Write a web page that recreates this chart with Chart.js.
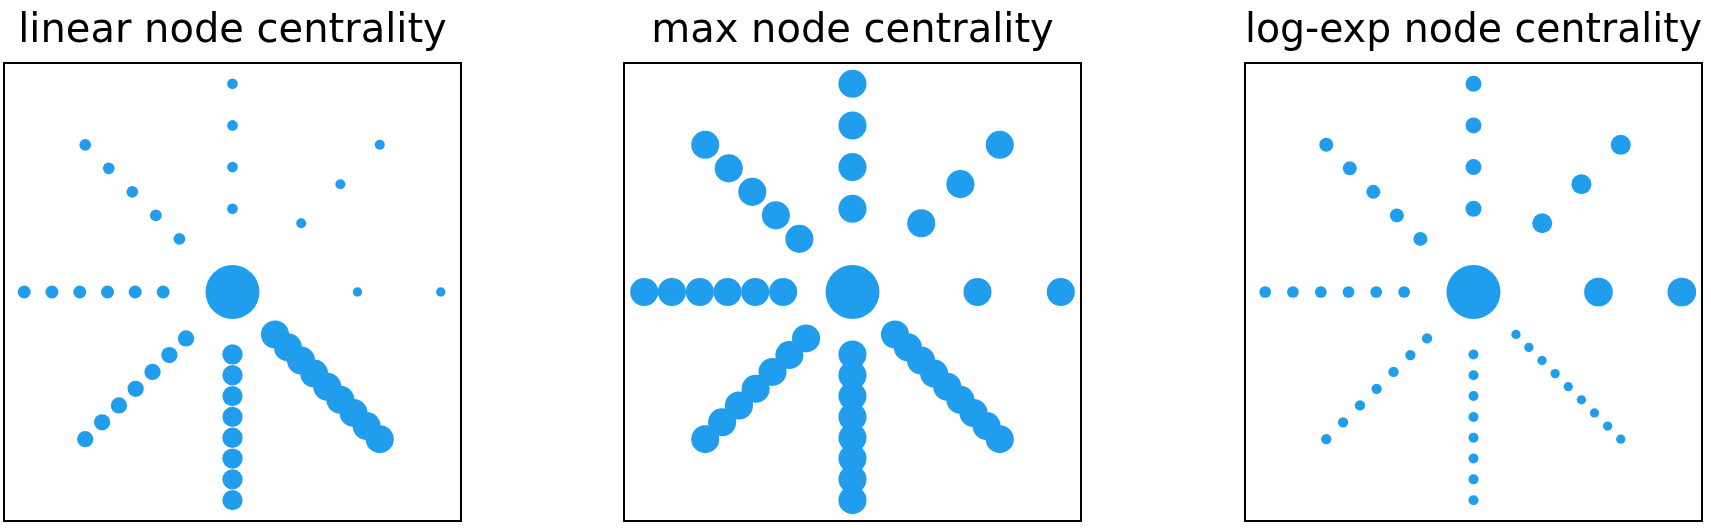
<!DOCTYPE html>
<html>
<head>
<meta charset="utf-8">
<script src="https://cdn.jsdelivr.net/npm/chart.js@4/dist/chart.umd.min.js"></script>
<style>
  body { margin: 0; background: #fff; width: 1711px; height: 528px; overflow: hidden; position: relative; }
  canvas { position: absolute; top: 0; }
</style>
</head>
<body>
<canvas id="c1" width="600" height="528" style="left:-68px"></canvas>
<canvas id="c2" width="600" height="528" style="left:552px"></canvas>
<canvas id="c3" width="600" height="528" style="left:1173px"></canvas>
<script>
// star graph: one centre node and 8 arms (2..9 nodes each)
const titles = ["linear node centrality", "max node centrality", "log-exp node centrality"];

// arm of each node: 0 centre, 1 right, 2 upper right, 3 top, 4 upper left,
// 5 left, 6 lower left, 7 bottom, 8 lower right
const nodeArm = [0,
  1, 1,
  2, 2, 2,
  3, 3, 3, 3,
  4, 4, 4, 4, 4,
  5, 5, 5, 5, 5, 5,
  6, 6, 6, 6, 6, 6, 6,
  7, 7, 7, 7, 7, 7, 7, 7,
  8, 8, 8, 8, 8, 8, 8, 8, 8];

const nodeX = [0,
  0.6, 1,
  0.33, 0.518, 0.707,
  0, 0, 0, 0,
  -0.255, -0.368, -0.481, -0.594, -0.707,
  -0.333, -0.467, -0.6, -0.733, -0.867, -1,
  -0.223, -0.303, -0.384, -0.465, -0.545, -0.626, -0.707,
  0, 0, 0, 0, 0, 0, 0, 0,
  0.204, 0.266, 0.329, 0.392, 0.455, 0.518, 0.581, 0.644, 0.707];

const nodeY = [0,
  0, 0,
  0.33, 0.518, 0.707,
  0.4, 0.6, 0.8, 1,
  0.255, 0.368, 0.481, 0.594, 0.707,
  0, 0, 0, 0, 0, 0,
  -0.223, -0.303, -0.384, -0.465, -0.545, -0.626, -0.707,
  -0.3, -0.4, -0.5, -0.6, -0.7, -0.8, -0.9, -1,
  -0.204, -0.266, -0.329, -0.392, -0.455, -0.518, -0.581, -0.644, -0.707];

// relative marker size per arm (centre = 1)
const linearSize = [1, 0.172, 0.185, 0.198, 0.217, 0.241, 0.302, 0.376, 0.519];
const maxSize    = [1, 0.52, 0.52, 0.52, 0.52, 0.52, 0.52, 0.52, 0.52];
const logExpSize = [1, 0.531, 0.37, 0.296, 0.259, 0.217, 0.191, 0.185, 0.172];

const dotColor = "#219ded";
const centreRadius = 27;

const boxPlugin = {
  id: "box",
  afterDraw(chart) {
    const a = chart.chartArea;
    const ctx = chart.ctx;
    ctx.save();
    ctx.strokeStyle = "#000";
    ctx.lineWidth = 2;
    ctx.strokeRect(a.left, a.top, a.right - a.left, a.bottom - a.top);
    ctx.restore();
  }
};

const points = nodeX.map((x, i) => ({ x: x, y: nodeY[i] }));

const makeChart = function (id, title, sizes) {
  new Chart(document.getElementById(id), {
    type: "scatter",
    data: {
      datasets: [{
        data: points,
        backgroundColor: dotColor,
        borderWidth: 0,
        pointRadius: nodeArm.map(a => sizes[a] * centreRadius),
        pointHoverRadius: nodeArm.map(a => sizes[a] * centreRadius)
      }]
    },
    options: {
      responsive: false,
      animation: false,
      devicePixelRatio: 1,
      layout: { autoPadding: false, padding: { left: 72, right: 71, top: 0, bottom: 7 } },
      plugins: {
        legend: { display: false },
        tooltip: { enabled: false },
        title: {
          display: true,
          text: title,
          color: "#000",
          font: { family: "DejaVu Sans", size: 40, weight: "normal" },
          padding: { top: 8, bottom: 7 }
        }
      },
      scales: {
        x: { display: false, min: -1.097, max: 1.097 },
        y: { display: false, min: -1.1, max: 1.1 }
      }
    },
    plugins: [boxPlugin]
  });
};

makeChart("c1", titles[0], linearSize);
makeChart("c2", titles[1], maxSize);
makeChart("c3", titles[2], logExpSize);
</script>
</body>
</html>
